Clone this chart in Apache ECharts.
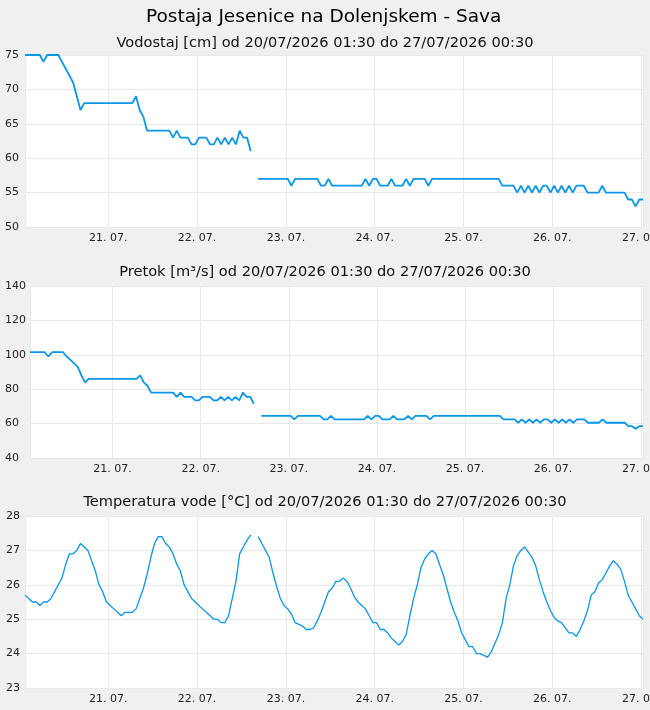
<!DOCTYPE html>
<html>
<head>
<meta charset="utf-8">
<script src="https://cdn.jsdelivr.net/npm/echarts@6/dist/echarts.min.js"></script>
<style>
html,body{margin:0;padding:0;background:#f0f0f0;}
#c{width:650px;height:710px;}
</style>
</head>
<body>
<div id="c"></div>
<script>
const mainTitle = 'Postaja Jesenice na Dolenjskem - Sava';
const panelTitles = [
  'Vodostaj [cm] od 20/07/2026 01:30 do 27/07/2026 00:30',
  'Pretok [m³/s] od 20/07/2026 01:30 do 27/07/2026 00:30',
  'Temperatura vode [°C] od 20/07/2026 01:30 do 27/07/2026 00:30'
];
// hourly readings, first at 20/07/2026 01:30, last at 27/07/2026 00:30
const startTime = Date.UTC(2026, 6, 20, 1, 30);
const endTime = Date.UTC(2026, 6, 27, 0, 30);
const stepMs = 3600000;

const vodostaj = [
75,75,75,75,75,74,75,75,75,75,
74,73,72,71,69,67,68,68,68,68,
68,68,68,68,68,68,68,68,68,68,
69,67,66,64,64,64,64,64,64,64,
63,64,63,63,63,62,62,63,63,63,
62,62,63,62,63,62,63,62,64,63,
63,61,null,57,57,57,57,57,57,57,
57,57,56,57,57,57,57,57,57,57,
56,56,57,56,56,56,56,56,56,56,
56,56,57,56,57,57,56,56,56,57,
56,56,56,57,56,57,57,57,57,56,
57,57,57,57,57,57,57,57,57,57,
57,57,57,57,57,57,57,57,57,56,
56,56,56,55,56,55,56,55,56,55,
56,56,55,56,55,56,55,56,55,56,
56,56,55,55,55,55,56,55,55,55,
55,55,55,54,54,53,54,54
];

const pretok = [
101.5,101.5,101.5,101.5,101.5,99,101.5,101.5,101.5,101.5,
99,97,95,93,88,84,86,86,86,86,
86,86,86,86,86,86,86,86,86,86,
88,84,82,78,78,78,78,78,78,78,
75.5,78,75.5,75.5,75.5,73.5,73.5,75.5,75.5,75.5,
73.5,73.5,75.5,73.5,75.5,73.5,75.5,73.5,78,75.5,
75.5,71.5,null,64.5,64.5,64.5,64.5,64.5,64.5,64.5,
64.5,64.5,62.5,64.5,64.5,64.5,64.5,64.5,64.5,64.5,
62.5,62.5,64.5,62.5,62.5,62.5,62.5,62.5,62.5,62.5,
62.5,62.5,64.5,62.5,64.5,64.5,62.5,62.5,62.5,64.5,
62.5,62.5,62.5,64.5,62.5,64.5,64.5,64.5,64.5,62.5,
64.5,64.5,64.5,64.5,64.5,64.5,64.5,64.5,64.5,64.5,
64.5,64.5,64.5,64.5,64.5,64.5,64.5,64.5,64.5,62.5,
62.5,62.5,62.5,60.5,62.5,60.5,62.5,60.5,62.5,60.5,
62.5,62.5,60.5,62.5,60.5,62.5,60.5,62.5,60.5,62.5,
62.5,62.5,60.5,60.5,60.5,60.5,62.5,60.5,60.5,60.5,
60.5,60.5,60.5,58.5,58.5,57,58.5,58.5
];

const temperatura = [
25.7,25.6,25.5,25.5,25.4,25.5,25.5,25.6,25.8,26.0,
26.2,26.6,26.9,26.9,27.0,27.2,27.1,27.0,26.7,26.4,
26.0,25.8,25.5,25.4,25.3,25.2,25.1,25.2,25.2,25.2,
25.3,25.6,25.9,26.3,26.8,27.2,27.4,27.4,27.2,27.1,
26.9,26.6,26.4,26.0,25.8,25.6,25.5,25.4,25.3,25.2,
25.1,25.0,25.0,24.9,24.9,25.1,25.6,26.1,26.9,27.1,
27.3,27.45,null,27.4,27.2,27.0,26.8,26.35,25.95,25.6,
25.4,25.3,25.15,24.9,24.85,24.8,24.7,24.7,24.75,24.95,
25.2,25.5,25.8,25.9,26.1,26.1,26.2,26.1,25.9,25.65,
25.5,25.4,25.3,25.1,24.9,24.9,24.7,24.7,24.6,24.45,
24.35,24.25,24.35,24.55,25.1,25.6,26.0,26.5,26.75,26.9,
27.0,26.9,26.6,26.3,25.9,25.5,25.2,24.95,24.6,24.4,
24.2,24.2,24.0,24.0,23.95,23.9,24.05,24.3,24.55,24.9,
25.6,26.0,26.55,26.85,27.0,27.1,26.95,26.8,26.55,26.15,
25.8,25.5,25.25,25.05,24.95,24.9,24.75,24.6,24.6,24.5,
24.7,24.95,25.25,25.7,25.8,26.05,26.15,26.35,26.55,26.7,
26.6,26.45,26.1,25.7,25.5,25.3,25.1,25.0
];

const yRanges = [
  {min: 50, max: 75, interval: 5},
  {min: 40, max: 140, interval: 20},
  {min: 23, max: 28, interval: 1}
];

function pair(arr) {
  return arr.map((v, i) => [startTime + i * stepMs, v]);
}

const FONT = 'DejaVu Sans';
const LINE = '#0a96e8';
const GRIDC = '#e8e8e8';
const tops = [55, 286, 516];
const lefts = [25, 30, 25];
const labelMargins = [20, 25, 19];
const titleTops = [31, 260, 490];
const lineWidths = [1.8, 1.8, 1.3];

function pad(n){ return (n < 10 ? '0' : '') + n; }

const chart = echarts.init(document.getElementById('c'), null, {renderer: 'canvas'});
const grids = [], xAxes = [], yAxes = [], series = [];
const titles = [{
  text: mainTitle, left: 141, top: 3,
  textStyle: {fontFamily: FONT, fontSize: 18.5, fontWeight: 'normal', color: '#000'}
}];
const datasets = [vodostaj, pretok, temperatura];
for (let k = 0; k < 3; k++) {
  titles.push({
    text: panelTitles[k], left: 'center', top: titleTops[k],
    textStyle: {fontFamily: FONT, fontSize: 14.6, fontWeight: 'normal', color: '#111'}
  });
  grids.push({left: lefts[k], right: 7, top: tops[k], height: 172, show: true,
    backgroundColor: '#ffffff', borderWidth: 0, outerBoundsMode: 'none', containLabel: false});
  xAxes.push({
    type: 'time', gridIndex: k, min: startTime, max: endTime,
    minInterval: 86400000, maxInterval: 86400000,
    axisLine: {show: false}, axisTick: {show: false},
    splitLine: {show: true, showMaxLine: true, lineStyle: {color: GRIDC, width: 1}},
    axisLabel: {
      fontFamily: FONT, fontSize: 11, color: '#222', margin: 6,
      showMinLabel: false, showMaxLabel: false,
      formatter: function (v) {
        const d = new Date(v);
        return pad(d.getUTCDate()) + '. ' + pad(d.getUTCMonth() + 1) + '.';
      }
    }
  });
  yAxes.push({
    type: 'value', gridIndex: k, min: yRanges[k].min, max: yRanges[k].max,
    interval: yRanges[k].interval,
    axisLine: {show: false}, axisTick: {show: false},
    splitLine: {show: true, lineStyle: {color: GRIDC, width: 1}},
    axisLabel: {fontFamily: FONT, fontSize: 11, color: '#222',
      align: 'left', margin: labelMargins[k]}
  });
  series.push({
    type: 'line', xAxisIndex: k, yAxisIndex: k, data: pair(datasets[k]),
    showSymbol: false, symbol: 'none', connectNulls: false,
    lineStyle: {color: LINE, width: lineWidths[k]}, animation: false
  });
}

chart.setOption({
  backgroundColor: '#f0f0f0',
  useUTC: true,
  animation: false,
  title: titles,
  grid: grids,
  xAxis: xAxes,
  yAxis: yAxes,
  series: series
});
</script>
</body>
</html>
